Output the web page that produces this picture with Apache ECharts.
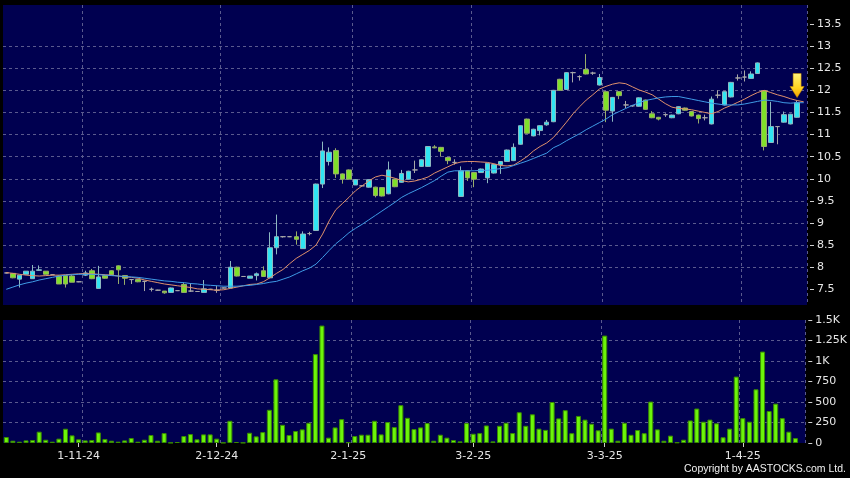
<!DOCTYPE html>
<html><head><meta charset="utf-8">
<script src="https://cdn.jsdelivr.net/npm/echarts@6/dist/echarts.min.js"></script>
<style>html,body{margin:0;padding:0;background:#000;}#c{width:850px;height:478px;}</style>
</head><body><div id="c"></div>
<script>
const dates = ['17-10-24','18-10-24','21-10-24','22-10-24','23-10-24','24-10-24','25-10-24','28-10-24','29-10-24','30-10-24','31-10-24',
'1-11-24','4-11-24','5-11-24','6-11-24','7-11-24','8-11-24','11-11-24','12-11-24','13-11-24','14-11-24','15-11-24','18-11-24','19-11-24','20-11-24','21-11-24','22-11-24','25-11-24','26-11-24','27-11-24','28-11-24','29-11-24',
'2-12-24','3-12-24','4-12-24','5-12-24','6-12-24','9-12-24','10-12-24','11-12-24','12-12-24','13-12-24','16-12-24','17-12-24','18-12-24','19-12-24','20-12-24','23-12-24','24-12-24','27-12-24','30-12-24','31-12-24',
'2-1-25','3-1-25','6-1-25','7-1-25','8-1-25','9-1-25','10-1-25','13-1-25','14-1-25','15-1-25','16-1-25','17-1-25','20-1-25','21-1-25','22-1-25','23-1-25','24-1-25','27-1-25','28-1-25',
'3-2-25','4-2-25','5-2-25','6-2-25','7-2-25','10-2-25','11-2-25','12-2-25','13-2-25','14-2-25','17-2-25','18-2-25','19-2-25','20-2-25','21-2-25','24-2-25','25-2-25','26-2-25','27-2-25','28-2-25',
'3-3-25','4-3-25','5-3-25','6-3-25','7-3-25','10-3-25','11-3-25','12-3-25','13-3-25','14-3-25','17-3-25','18-3-25','19-3-25','20-3-25','21-3-25','24-3-25','25-3-25','26-3-25','27-3-25','28-3-25','31-3-25',
'1-4-25','2-4-25','3-4-25','7-4-25','8-4-25','9-4-25','10-4-25','11-4-25','14-4-25',''];

// [open, close, low, high]
const ohlc = [
[7.87,7.87,7.86,7.88],[7.86,7.76,7.75,7.87],[7.73,7.82,7.54,7.82],[7.84,7.91,7.84,7.91],[7.74,7.91,7.74,8.05],
[7.93,7.94,7.92,8.04],[7.91,7.84,7.84,7.91],[7.83,7.83,7.82,7.84],[7.80,7.62,7.62,7.81],[7.81,7.62,7.54,7.82],
[7.80,7.66,7.66,7.82],[7.67,7.67,7.66,7.68],[7.82,7.87,7.80,7.92],[7.92,7.74,7.73,7.96],[7.52,7.78,7.52,8.03],
[7.81,7.75,7.74,7.82],[7.92,7.83,7.82,7.93],[8.03,7.94,7.62,8.04],[7.81,7.75,7.60,7.82],[7.72,7.72,7.62,7.73],
[7.72,7.67,7.66,7.73],[7.68,7.68,7.46,7.69],[7.50,7.50,7.45,7.54],[7.48,7.48,7.47,7.49],[7.46,7.42,7.40,7.46],
[7.43,7.53,7.42,7.54],[7.47,7.47,7.46,7.48],[7.61,7.43,7.42,7.65],[7.46,7.46,7.44,7.64],[7.45,7.45,7.44,7.46],
[7.43,7.51,7.42,7.71],[7.50,7.50,7.49,7.51],[7.48,7.48,7.42,7.58],[7.53,7.53,7.52,7.54],[7.53,8.00,7.53,8.14],
[8.00,7.80,7.79,8.01],[7.79,7.79,7.78,7.80],[7.75,7.80,7.75,7.80],[7.81,7.85,7.70,7.88],[7.92,7.79,7.78,8.02],
[7.76,8.44,7.75,8.79],[8.44,8.69,8.29,9.19],[8.69,8.69,8.67,8.70],[8.69,8.69,8.68,8.70],[8.69,8.63,8.51,8.81],
[8.42,8.75,8.42,8.81],[8.76,8.76,8.72,8.80],[8.83,9.88,8.82,9.89],[9.88,10.63,9.79,10.84],[10.39,10.60,10.30,10.71],
[10.64,10.11,10.02,10.69],[10.11,9.99,9.89,10.12],[10.20,9.99,9.98,10.21],[9.86,9.98,9.86,9.99],[9.84,9.84,9.83,9.85],
[9.81,9.98,9.80,9.99],[9.81,9.62,9.58,9.82],[9.80,9.61,9.60,9.81],[9.66,10.20,9.65,10.39],[9.99,9.82,9.81,10.00],
[9.92,10.12,9.91,10.20],[9.99,10.17,9.98,10.18],[10.20,10.20,10.13,10.41],[10.28,10.43,10.27,10.44],[10.28,10.73,10.27,10.74],
[10.72,10.70,10.69,10.76],[10.71,10.62,10.50,10.72],[10.48,10.41,10.33,10.49],[10.37,10.37,10.32,10.44],[9.60,10.18,9.59,10.28],
[10.18,10.02,9.95,10.19],[10.14,9.99,9.81,10.15],[10.14,10.22,10.13,10.23],[10.02,10.35,9.90,10.36],[10.13,10.32,10.12,10.33],
[10.32,10.39,10.11,10.40],[10.39,10.65,10.38,10.66],[10.41,10.71,10.40,10.80],[10.78,11.20,10.77,11.21],[11.35,11.03,11.02,11.36],
[10.97,11.12,10.96,11.13],[11.09,11.20,10.98,11.21],[11.22,11.28,11.20,11.33],[11.29,12.00,11.28,12.01],[12.25,12.00,11.99,12.26],
[12.02,12.40,12.01,12.41],[12.40,12.40,12.18,12.42],[12.31,12.31,12.22,12.34],[12.47,12.37,12.36,12.82],[12.39,12.39,12.35,12.42],
[12.12,12.29,12.11,12.37],[11.97,11.55,11.28,11.98],[11.53,11.84,11.29,11.85],[11.97,11.88,11.80,11.98],[11.67,11.67,11.60,11.76],
[11.65,11.65,11.63,11.67],[11.64,11.83,11.63,11.84],[11.78,11.57,11.56,11.79],[11.47,11.38,11.37,11.53],[11.39,11.35,11.32,11.40],
[11.45,11.45,11.40,11.48],[11.38,11.44,11.37,11.45],[11.47,11.63,11.46,11.64],[11.60,11.55,11.54,11.61],[11.52,11.42,11.41,11.53],
[11.44,11.36,11.25,11.45],[11.38,11.38,11.32,11.45],[11.24,11.80,11.23,11.86],[11.89,11.89,11.82,12.00],[11.67,11.97,11.66,11.98],
[11.85,12.18,11.84,12.19],[12.28,12.28,12.22,12.36],[12.30,12.30,12.20,12.45],[12.27,12.37,12.26,12.43],[12.38,12.62,12.37,12.63],
[11.99,10.73,10.64,12.00],[10.82,11.18,10.81,11.74],[11.18,11.18,10.78,11.19],[11.28,11.45,11.27,11.52],[11.24,11.46,11.23,11.47],
[11.39,11.72,11.38,11.77]];

const volumes = [73,28,16,32,36,138,40,16,53,174,
93,45,32,36,129,49,28,16,32,61,
16,40,97,28,121,4,12,85,109,45,
105,105,53,4,271,12,4,125,81,133,
405,777,222,97,146,166,247,1084,1432,65,
190,291,8,85,101,101,271,105,255,194,
461,307,170,190,243,28,101,65,36,20,
243,113,121,214,20,210,247,121,375,210,
350,175,160,500,300,400,120,330,285,235,
155,1310,175,28,247,100,158,120,505,166,
28,90,8,40,275,420,260,285,240,70,
175,810,303,260,655,1115,390,480,303,138,
60];

const ma10 = [7.88,7.86,7.84,7.82,7.81,7.80,7.81,7.82,7.82,7.83,
7.84,7.85,7.86,7.85,7.84,7.83,7.82,7.80,7.78,7.77,
7.75,7.71,7.68,7.65,7.62,7.60,7.58,7.56,7.54,7.51,
7.50,7.49,7.48,7.49,7.52,7.55,7.58,7.61,7.62,7.67,
7.76,7.86,7.95,8.08,8.20,8.29,8.38,8.50,8.75,9.05,
9.30,9.44,9.58,9.73,9.84,9.95,10.04,10.08,10.05,10.01,
9.96,9.93,9.95,9.99,10.04,10.13,10.20,10.27,10.34,10.38,
10.39,10.39,10.38,10.37,10.34,10.30,10.29,10.31,10.40,10.50,
10.63,10.73,10.81,10.93,11.10,11.28,11.47,11.63,11.78,11.90,
12.03,12.09,12.14,12.17,12.15,12.08,12.01,11.96,11.90,11.80,
11.70,11.62,11.59,11.58,11.56,11.53,11.50,11.47,11.52,11.60,
11.66,11.73,11.80,11.88,11.95,12.00,11.95,11.90,11.86,11.81,
11.77,11.74];

const ma20 = [7.50,7.55,7.60,7.64,7.67,7.71,7.74,7.77,7.80,7.82,
7.83,7.84,7.84,7.84,7.83,7.82,7.81,7.80,7.79,7.78,
7.77,7.75,7.73,7.71,7.69,7.68,7.66,7.65,7.63,7.62,
7.60,7.59,7.58,7.57,7.57,7.57,7.58,7.59,7.61,7.63,
7.66,7.68,7.73,7.78,7.85,7.92,7.98,8.07,8.22,8.38,
8.53,8.65,8.78,8.88,8.97,9.07,9.17,9.27,9.37,9.47,
9.58,9.66,9.73,9.80,9.88,9.96,10.06,10.15,10.18,10.18,
10.18,10.18,10.19,10.19,10.21,10.23,10.25,10.30,10.35,10.40,
10.46,10.52,10.58,10.70,10.77,10.86,10.94,11.02,11.11,11.19,
11.27,11.35,11.45,11.52,11.59,11.66,11.72,11.77,11.80,11.83,
11.85,11.86,11.86,11.83,11.80,11.77,11.74,11.71,11.69,11.67,
11.67,11.67,11.69,11.72,11.75,11.78,11.77,11.75,11.72,11.71,
11.72,11.72];

const priceTicks = [7.5,8,8.5,9,9.5,10,10.5,11,11.5,12,12.5,13,13.5];
const volumeTicks = [0,250,500,750,1000,1250,1500];
const labelDates = ['1-11-24','2-12-24','2-1-25','3-2-25','3-3-25','1-4-25'];
const gridDates = ['4-11-24','3-12-24','3-1-25','3-2-25','3-3-25','1-4-25'];
const arrowDate = '14-4-25';

const chart = echarts.init(document.getElementById('c'), null, {renderer: 'canvas'});
const gridLine = {show: true, lineStyle: {color: '#5a5a8e', type: [3, 3], width: 1}};
const txt = {color: '#e6e6e6', fontFamily: 'DejaVu Sans', fontSize: 11};
const isLabel = (i, v) => labelDates.indexOf(dates[i]) >= 0;
const isGrid = (i, v) => gridDates.indexOf(dates[i]) >= 0;
const arrowIdx = dates.indexOf(arrowDate);

chart.setOption({
  backgroundColor: '#000',
  animation: false,
  grid: [
    {left: 3, width: 804, top: 5, height: 300, show: true, backgroundColor: '#000050', borderWidth: 0},
    {left: 3, width: 804, top: 320, height: 123, show: true, backgroundColor: '#000050', borderWidth: 0}
  ],
  xAxis: [
    {type: 'category', gridIndex: 0, data: dates, boundaryGap: true,
     axisLine: {show: false}, axisTick: {show: false}, axisLabel: {show: false},
     splitLine: Object.assign({interval: isGrid}, gridLine)},
    {type: 'category', gridIndex: 1, data: dates, boundaryGap: true, offset: 2,
     axisLine: {show: false},
     axisTick: {show: true, interval: isLabel, alignWithLabel: true, length: 4, lineStyle: {color: '#cfcfcf'}},
     axisLabel: Object.assign({interval: isLabel, margin: 6}, txt),
     splitLine: Object.assign({interval: isGrid}, gridLine)}
  ],
  yAxis: [
    {type: 'value', gridIndex: 0, position: 'right', min: 7.145, max: 13.93, splitNumber: 13, offset: 3,
     axisLine: {show: false},
     axisTick: {show: true, length: 4, customValues: priceTicks, lineStyle: {color: '#cfcfcf'}},
     axisLabel: Object.assign({margin: 7, customValues: priceTicks,
       formatter: v => (Math.abs(v * 2 - Math.round(v * 2)) < 1e-6 ? String(v) : '')}, txt),
     splitLine: Object.assign({showMinLine: false, showMaxLine: false}, gridLine)},
    {type: 'value', gridIndex: 1, position: 'right', min: 0, max: 1500, interval: 250, offset: 3,
     axisLine: {show: false},
     axisTick: {show: true, length: 4, lineStyle: {color: '#cfcfcf'}},
     axisLabel: Object.assign({margin: 7, formatter: v => v >= 1000 ? (v / 1000) + 'K' : String(v)}, txt),
     splitLine: Object.assign({showMinLine: false, showMaxLine: false}, gridLine)}
  ],
  series: [
    {type: 'candlestick', xAxisIndex: 0, yAxisIndex: 0, data: ohlc, barWidth: 5,
     itemStyle: {color: '#30e4f2', color0: '#80e02a', borderColor: '#8db8c0', borderColor0: '#98ac6a',
                 borderColorDoji: '#a8a8a8', borderWidth: 1},
     markPoint: {
       symbol: 'path://M3,0 L11,0 L11,13 L14,13 L7,24 L0,13 L3,13 Z',
       symbolSize: [14, 24], symbolKeepAspect: false,
       label: {show: false},
       data: [{coord: [arrowDate, ohlc[arrowIdx][3]], symbolOffset: [0, -15],
         itemStyle: {color: new echarts.graphic.LinearGradient(0, 0, 0, 1, [
           {offset: 0, color: '#fff37a'}, {offset: 0.6, color: '#ffd21f'}, {offset: 1, color: '#f0a000'}]),
           borderColor: '#c98a00', borderWidth: 0.5}}]
     }},
    {type: 'line', xAxisIndex: 0, yAxisIndex: 0, data: ma10, showSymbol: false, smooth: false,
     lineStyle: {color: '#e0916c', width: 1}, z: 3},
    {type: 'line', xAxisIndex: 0, yAxisIndex: 0, data: ma20, showSymbol: false, smooth: false,
     lineStyle: {color: '#3f9be6', width: 1}, z: 3},
    {type: 'bar', xAxisIndex: 1, yAxisIndex: 1, data: volumes, barWidth: 5,
     itemStyle: {color: '#6cf50a', borderColor: '#3a8c00', borderWidth: 1}}
  ],
  graphic: [
    {type: 'text', right: 4, top: 464, style: {text: 'Copyright by AASTOCKS.com Ltd.', fill: '#f0f0f0',
      font: '10.5px "Liberation Sans", Arial, sans-serif'}}
  ]
});
</script>
</body></html>
